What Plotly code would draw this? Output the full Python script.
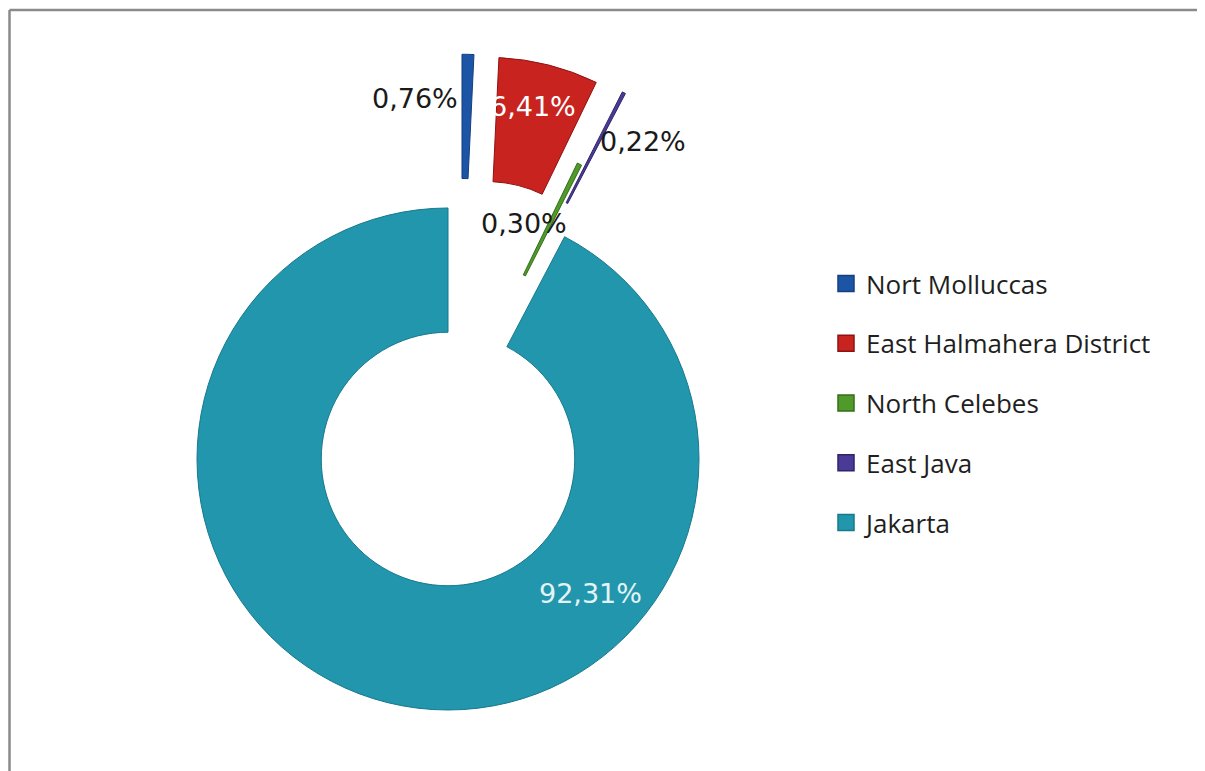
import math
import plotly.graph_objects as go

# ---------------- data ----------------
categories = ["Nort Molluccas", "East Halmahera District", "North Celebes", "East Java", "Jakarta"]
shares = [0.76, 6.41, 0.30, 0.22, 92.31]

# ---------------- style ----------------
colors = ["#1d55a6", "#c8231f", "#4f9a2b", "#4b3a96", "#2196ad"]
rim_colors = ["#143f80", "#8f1212", "#356d1b", "#2f2468", "#17798c"]
label_colors = ["#1a1a1a", "#ffffff", "#1a1a1a", "#1a1a1a", "#e4f3f6"]
# explode: (distance as fraction of radius, direction in degrees clockwise from 12 o'clock)
explode = [(0.615, 5.2), (0.62, 14.5), (0.29, 16.0), (0.62, 23.0), (0.0, 0.0)]
# label anchor positions (pixels in the browser page)
label_px = [(415, 99), (533, 106), (524, 223), (643, 141), (590, 593)]

PAGE_W, PAGE_H = 1205, 771
BODY = 8                          # default page body margin in the browser
W, H = PAGE_W - BODY, PAGE_H - BODY
CX, CY, R = 448, 459, 251         # donut centre and outer radius (page pixels)
HOLE = 0.505


def fx(px):
    return (px - BODY) / W


def fy(py):
    return 1 - (py - BODY) / H


fig = go.Figure()

for i, name in enumerate(categories):
    dist, ang = explode[i]
    dx = dist * R * math.sin(math.radians(ang))
    dy = -dist * R * math.cos(math.radians(ang))
    cx, cy = CX + dx, CY + dy
    slice_colors = ["rgba(0,0,0,0)"] * len(categories)
    slice_colors[i] = colors[i]
    line_colors = ["rgba(0,0,0,0)"] * len(categories)
    line_colors[i] = rim_colors[i]
    fig.add_trace(go.Pie(
        labels=categories,
        values=shares,
        sort=False,
        direction="clockwise",
        rotation=0,
        hole=HOLE,
        textinfo="none",
        hoverinfo="label+percent",
        showlegend=False,
        marker=dict(colors=slice_colors, line=dict(color=line_colors, width=1)),
        domain=dict(x=[fx(cx - R), fx(cx + R)], y=[fy(cy + R), fy(cy - R)]),
    ))

# legend entries
for i, name in enumerate(categories):
    fig.add_trace(go.Scatter(
        x=[None], y=[None], mode="markers", name=name,
        legendgroup=name,
        marker=dict(symbol="square", size=16, color=colors[i],
                    line=dict(color=rim_colors[i], width=1.5)),
    ))

# percentage labels
for i, v in enumerate(shares):
    txt = f"{v:.2f}".replace(".", ",") + "%"
    x, y = label_px[i]
    fig.add_annotation(
        x=fx(x), y=fy(y), xref="paper", yref="paper",
        text=txt, showarrow=False,
        font=dict(family="DejaVu Sans", size=27, color=label_colors[i]),
        xanchor="center", yanchor="middle",
    )

# frame
fig.add_shape(type="line", xref="paper", yref="paper",
              x0=fx(9.5), x1=fx(9.5), y0=0, y1=fy(10),
              line=dict(color="#8a8a8a", width=2.5))
fig.add_shape(type="line", xref="paper", yref="paper",
              x0=fx(9.5), x1=fx(1198), y0=fy(10), y1=fy(10),
              line=dict(color="#8a8a8a", width=2.5))
fig.add_shape(type="line", xref="paper", yref="paper",
              x0=fx(1198), x1=fx(1198), y0=0, y1=fy(10),
              line=dict(color="#ececec", width=1.5))

fig.update_layout(
    width=W, height=H,
    margin=dict(l=0, r=0, t=0, b=0),
    paper_bgcolor="#ffffff",
    plot_bgcolor="rgba(0,0,0,0)",
    xaxis=dict(visible=False),
    yaxis=dict(visible=False),
    legend=dict(
        x=fx(826), y=fy(260), xanchor="left", yanchor="top",
        font=dict(family="Open Sans", size=26, color="#1f1f1f"),
        tracegroupgap=23,
        bgcolor="rgba(0,0,0,0)",
    ),
)

fig.write_html("out.html")
